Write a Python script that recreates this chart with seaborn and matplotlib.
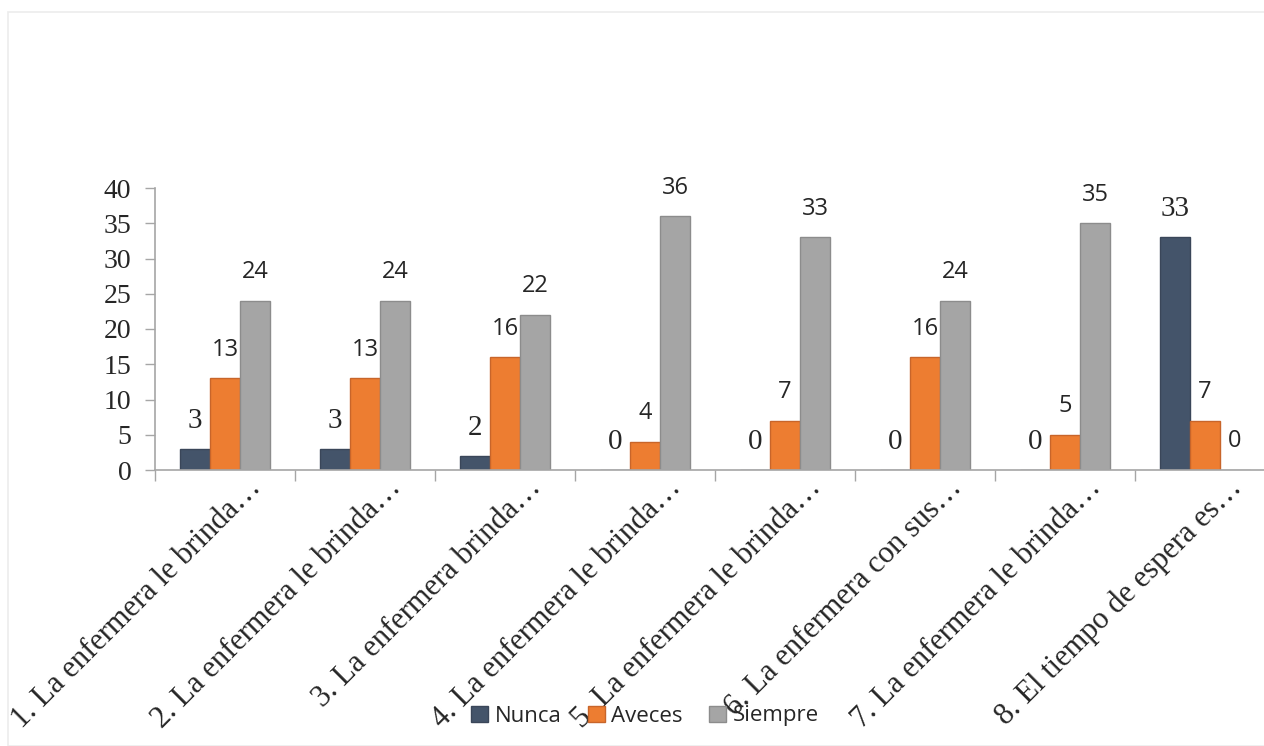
import numpy as np
import pandas as pd
import seaborn as sns
from matplotlib import pyplot as plt
from matplotlib import transforms
from matplotlib.patches import Rectangle

categories = ["1. La enfermera le brinda…", "2. La enfermera le brinda…",
              "3. La enfermera brinda…", "4. La enfermera le brinda…",
              "5. La enfermera le brinda…", "6. La enfermera con sus…",
              "7. La enfermera le brinda…", "8. El tiempo de espera es…"]
series = ["Nunca", "Aveces", "Siempre"]
nunca = [3, 3, 2, 0, 0, 0, 0, 33]
aveces = [13, 13, 16, 4, 7, 16, 5, 7]
siempre = [24, 24, 22, 36, 33, 24, 35, 0]
y_ticks = [0, 5, 10, 15, 20, 25, 30, 35, 40]

colors = ["#44546A", "#ED7D31", "#A5A5A5"]
edges = ["#3a4659", "#c8652a", "#8c8c8c"]

df = pd.DataFrame({
    "cat": categories * 3,
    "serie": [s for s in series for _ in categories],
    "valor": nunca + aveces + siempre,
})

sns.set_style("white")
serif = "Liberation Serif"
sans = "Open Sans"

fig = plt.figure(figsize=(12.64, 7.46), dpi=100)
fig.patches.append(Rectangle((8 / 1264, 0), 1.1, 1 - 12 / 746, transform=fig.transFigure,
                             fill=False, edgecolor="#ececec", linewidth=1.2))
ax = fig.add_axes([155 / 1264, 1 - 470 / 746, 1120 / 1264, 282 / 746])

sns.barplot(data=df, x="cat", y="valor", hue="serie", palette=colors,
            width=0.643, gap=0, ax=ax, legend=False, saturation=1)

for i, cont in enumerate(ax.containers):
    for bar in cont:
        bar.set_edgecolor(edges[i])
        bar.set_linewidth(1.0)
    labs = [f"{int(v)}" for v in cont.datavalues]
    if i == 0:
        ax.bar_label(cont, labels=labs, padding=11, fontsize=21, fontfamily=serif)
    else:
        ax.bar_label(cont, labels=labs, padding=12, fontsize=17, fontfamily=sans)

ax.set_ylim(0, 40)
ax.set_xlim(-0.5, 7.5)
ax.set_yticks(y_ticks)
ax.set_yticklabels([str(t) for t in y_ticks], fontsize=20, fontfamily=serif)
ax.set_xticks(np.arange(-0.5, 7.5, 1))
ax.set_xticklabels([])
ax.tick_params(axis="x", bottom=True, direction="out", length=8, width=1, color="#a6a6a6")
ax.tick_params(axis="y", left=True, direction="out", length=7, width=1, color="#a6a6a6", pad=10)
ax.set_xticks(np.arange(0, 8, 1), minor=True)
ax.set_xticklabels(categories, minor=True, fontsize=22, fontfamily=serif, rotation=45,
                   ha="right", va="top", rotation_mode="anchor")
ax.tick_params(axis="x", which="minor", length=0, pad=0)
offset = transforms.ScaledTranslation(22 / 100, -3 / 100, fig.dpi_scale_trans)
for lab in ax.get_xticklabels(minor=True):
    lab.set_transform(lab.get_transform() + offset)

ax.set_xlabel("")
ax.set_ylabel("")
for s in ["top", "right"]:
    ax.spines[s].set_visible(False)
for s in ["left", "bottom"]:
    ax.spines[s].set_color("#a6a6a6")
    ax.spines[s].set_linewidth(1.2)

handles = [Rectangle((0, 0), 1, 1, facecolor=colors[i], edgecolor=edges[i]) for i in range(3)]
fig.legend(handles, series, loc="center", bbox_to_anchor=(645 / 1264, 1 - 716 / 746),
           ncol=3, frameon=False, prop={"family": sans, "size": 16},
           handlelength=0.75, handleheight=0.75, handletextpad=0.3, columnspacing=1.2)

fig.savefig("out.png", dpi=100)
